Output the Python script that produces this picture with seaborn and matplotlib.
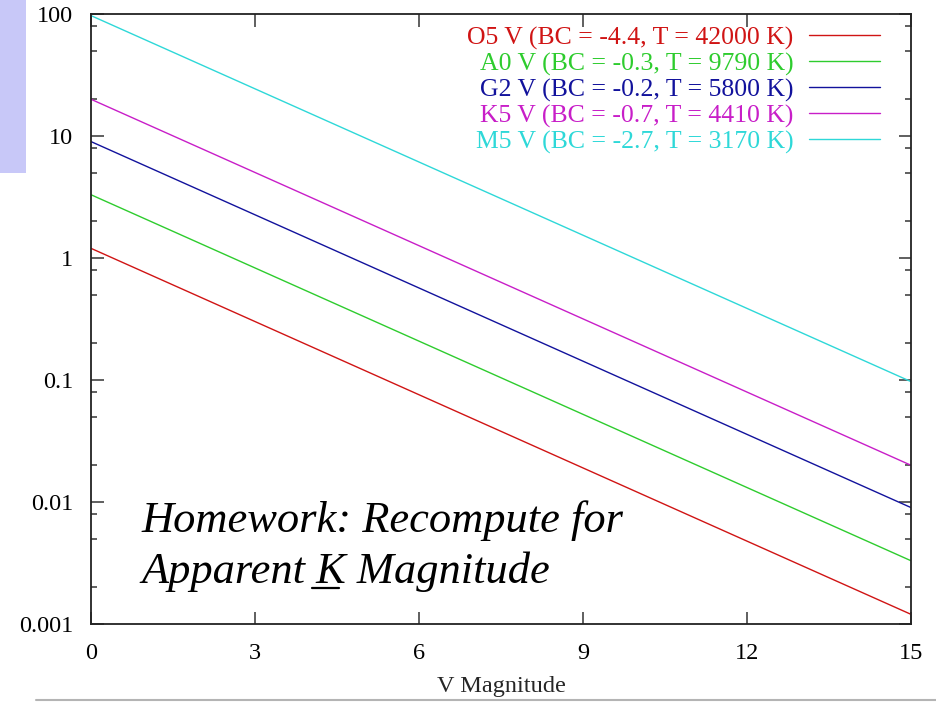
import matplotlib
matplotlib.use("Agg")
import numpy as np
import pandas as pd
import seaborn as sns
import matplotlib.pyplot as plt
from matplotlib.ticker import FixedLocator, LogLocator, NullFormatter, FixedFormatter
from matplotlib.patches import Rectangle
from matplotlib.lines import Line2D

# ---- data ----
v_mag = [0, 15]
star_labels = [
    "O5 V (BC = -4.4, T = 42000 K)",
    "A0 V (BC = -0.3, T = 9790 K)",
    "G2 V (BC = -0.2, T = 5800 K)",
    "K5 V (BC = -0.7, T = 4410 K)",
    "M5 V (BC = -2.7, T = 3170 K)",
]
o5_values = [1.2, 0.0012]
a0_values = [3.3, 0.0033]
g2_values = [9.0, 0.0090]
k5_values = [20.0, 0.020]
m5_values = [97.0, 0.097]
line_colors = ["#d01414", "#2ecc2e", "#12129c", "#c81ec8", "#2ed8d8"]
x_ticks = [0, 3, 6, 9, 12, 15]
y_ticks = [0.001, 0.01, 0.1, 1, 10, 100]
y_tick_labels = ["0.001", "0.01", "0.1", "1", "10", "100"]
x_label = "V Magnitude"
note_line1 = "Homework: Recompute for"
note_line2 = "Apparent K Magnitude"

series = [o5_values, a0_values, g2_values, k5_values, m5_values]
rows = []
for lab, vals in zip(star_labels, series):
    for x, y in zip(v_mag, vals):
        rows.append({"V": x, "value": y, "star": lab})
df = pd.DataFrame(rows)

sns.set_style("ticks")
plt.rcParams["font.family"] = ["Liberation Serif", "DejaVu Serif"]

W, H = 937, 702
fig = plt.figure(figsize=(W / 100, H / 100), dpi=100)
ax = fig.add_axes([91 / W, 1 - 624 / H, 820 / W, 610 / H])

sns.lineplot(data=df, x="V", y="value", hue="star", hue_order=star_labels,
             palette=line_colors, ax=ax, linewidth=1.0, legend=False)

ax.set_yscale("log")
ax.set_xlim(0, 15)
ax.set_ylim(0.001, 100)

fs = 17.5
lfs = 18.5
ax.xaxis.set_major_locator(FixedLocator(x_ticks))
ax.set_xticklabels([str(t) for t in x_ticks])
ax.yaxis.set_major_locator(FixedLocator(y_ticks))
ax.yaxis.set_major_formatter(FixedFormatter(y_tick_labels))
ax.yaxis.set_minor_locator(LogLocator(base=10, subs=[2, 5, 8]))
ax.yaxis.set_minor_formatter(NullFormatter())
ax.xaxis.set_minor_locator(FixedLocator([]))

ax.tick_params(axis="both", which="both", direction="in", top=True, right=True,
               color="#444444", labelsize=fs, labelcolor="black")
ax.tick_params(axis="both", which="major", length=9, width=1.2)
ax.tick_params(axis="y", which="minor", length=4.5, width=1.2)
ax.tick_params(axis="y", which="major", pad=13)
ax.tick_params(axis="x", which="major", pad=13.5)

for sp in ax.spines.values():
    sp.set_visible(True)
    sp.set_linewidth(1.3)
    sp.set_color("#222222")

ax.set_xlabel(x_label, fontsize=fs, labelpad=9)
ax.set_ylabel("")

handles = [Line2D([], [], color=c, lw=1.0) for c in line_colors]
ax.legend(handles, star_labels, loc="upper right",
          bbox_to_anchor=(789 / 820, 0.9797), frameon=False,
          markerfirst=False, labelcolor=line_colors, fontsize=lfs,
          handlelength=2.75, handletextpad=0.62, labelspacing=0.1,
          borderpad=0, borderaxespad=0)

# annotation
nfs = 32
t1 = fig.text(141.7 / W, 1 - 531.7 / H, note_line1, fontsize=nfs,
              style="italic", ha="left", va="baseline", color="black")
t2 = fig.text(141.7 / W, 1 - 583 / H, note_line2, fontsize=nfs,
              style="italic", ha="left", va="baseline", color="black")

# underline the K
fig.canvas.draw()
renderer = fig.canvas.get_renderer()
tmp = fig.text(0, 0, "Apparent K", fontsize=nfs, style="italic")
w2 = tmp.get_window_extent(renderer).width
tmp.set_text("K")
wK = tmp.get_window_extent(renderer).width
tmp.remove()
bb = t2.get_window_extent(renderer)
x0 = bb.x0 + w2 - wK - 5
x1 = bb.x0 + w2 - 7
yb = (1 - 588 / H) * H
fig.add_artist(Line2D([x0 / W, x1 / W], [yb / H, yb / H], transform=fig.transFigure,
                      color="black", lw=1.6))

# slide decorations
fig.add_artist(Rectangle((0, 1 - 173 / H), 26 / W, 173 / H, transform=fig.transFigure,
                         facecolor="#c8c8f8", edgecolor="none", zorder=-1))
fig.add_artist(Line2D([36 / W, 1], [1 - 700 / H, 1 - 700 / H], transform=fig.transFigure,
                      color="#b4b4b4", lw=1.5))

fig.savefig("out.png", dpi=100)
